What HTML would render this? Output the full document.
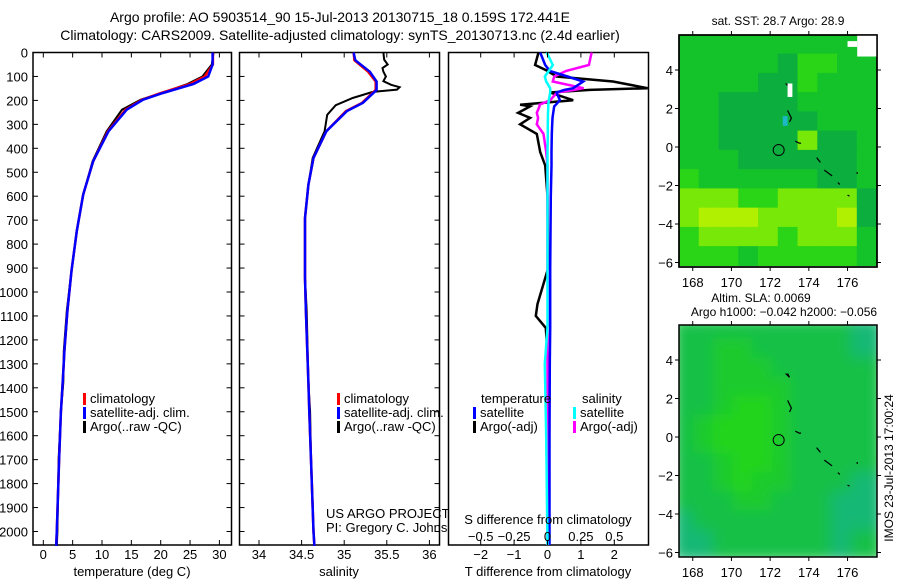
<!DOCTYPE html>
<html><head><meta charset="utf-8">
<style>
html,body{margin:0;padding:0;background:#fff;}
svg{display:block;font-family:"Liberation Sans",sans-serif;}
</style></head>
<body>
<svg id="fig" width="900" height="580" viewBox="0 0 900 580"></svg>
<script>
// ---------- data ----------
const tDepth   = [0,50,100,131,169,197,239,329,454,593,745,912,1079,1246,1378,1500,1700,2000,2060];
const tClim    = [28.9,28.9,27.5,25.0,20.0,16.8,14.0,11.0,8.5,6.8,5.7,4.8,4.1,3.6,3.3,3.0,2.7,2.3,2.2];
const tSat     = [28.85,28.85,28.1,25.6,20.4,17.0,14.2,11.1,8.5,6.8,5.7,4.8,4.1,3.6,3.3,3.0,2.7,2.3,2.2];
const tArgo    = [29.0,28.7,27.1,24.6,20.2,16.6,13.4,10.8,8.4,6.8,5.7,4.8,4.0,3.5,3.4,3.0,2.6,2.4,2.3];
const sDepth   = [0,32,80,121,156,210,245,329,440,552,691,941,1079,1378,1500,1700,2000,2060];
const sClim    = [35.11,35.12,35.28,35.37,35.37,35.21,35.02,34.79,34.64,34.58,34.54,34.54,34.55,34.58,34.59,34.61,34.64,34.65];
const sSat     = [35.11,35.13,35.30,35.38,35.38,35.22,35.03,34.79,34.64,34.58,34.54,34.54,34.55,34.58,34.59,34.61,34.64,34.65];
const sArgoDepth = [0,30,50,65,80,100,120,135,145,155,165,190,220,260,329,440,552,691,941,1079,1378,1500,1700,2000,2060];
const sArgo    = [35.46,35.47,35.51,35.45,35.46,35.49,35.46,35.55,35.65,35.62,35.33,35.10,34.90,34.80,34.77,34.63,34.58,34.54,34.54,34.56,34.58,34.6,34.61,34.64,34.65];
const dDepth   = [0,52,77,100,121,149,156,167,199,218,225,252,273,300,340,416,472,600,900,1050,1100,1150,1300,1600,2060];
const dTArgo   = [-0.27,-0.37,0,0.27,1.96,3.0,1.27,0.07,0.77,-0.82,-0.52,-0.88,-0.52,-0.82,-0.32,-0.22,-0.07,0,0.02,-0.3,-0.35,-0.05,0.02,0.05,0.05];
const dSArgo   = [0.33,0.31,0.14,0.05,0.04,0.27,0.2,0.07,0.02,-0.06,-0.06,-0.08,-0.07,-0.08,-0.03,-0.01,0,0,0,0.01,0.01,0,0,0,0];
const dTSat    = [-0.22,-0.07,0.07,0.6,1.07,0.77,0.5,0.27,0.37,0.25,0.2,0.17,0.15,0.14,0.13,0.12,0.12,0.1,0.08,0.08,0.08,0.08,0.07,0.06,0.06];
const dSSat    = [-0.006,0.04,0.01,-0.02,-0.01,0.02,0.02,0.02,0.01,0.006,0.006,0.004,0.003,0.002,0.002,0,0,0,0,0,0,0,-0.02,-0.01,0];
const tTicks = [0,5,10,15,20,25,30];
const sTicks = [34,34.5,35,35.5,36];
const sTickLabels = ["34","34.5","35","35.5","36"];
const dTTicks = [-2,-1,0,1,2];
const dSTicks = [-0.5,-0.25,0,0.25,0.5];
const dSTickLabels = ["\u22120.5","\u22120.25","0","0.25","0.5"];
const depthTicks = [0,100,200,300,400,500,600,700,800,900,1000,1100,1200,1300,1400,1500,1600,1700,1800,1900,2000];
const lonTicks = [168,170,172,174,176];
const latTicks = [4,2,0,-2,-4,-6];
const sstPalette = ["#0cae3e","#14c22a","#2ad416","#78e808","#b0f000"];
const sstGrid = [
[1,1,1,1,1,1,1,1,1,1],
[1,1,1,1,1,0,2,2,1,1],
[1,1,1,1,0,0,2,1,1,1],
[1,1,0,0,0,0,1,1,1,1],
[1,1,0,0,0,0,0,1,1,1],
[1,1,0,0,0,0,3,0,0,1],
[1,1,1,0,0,0,0,0,0,1],
[2,1,1,1,1,1,1,0,0,1],
[3,3,3,2,2,3,3,3,3,0],
[3,4,4,4,3,3,3,3,4,0],
[2,3,3,3,3,2,3,3,3,1],
[2,2,2,1,2,2,2,2,2,1]];
const slaPalette = ["#12b874","#16c046","#1cca2e","#24d41a"];
const slaGrid = [
[1,1,1,1,1,1,1,1,1,0],
[1,1,2,2,1,1,1,1,1,0],
[1,1,2,2,2,1,1,1,1,1],
[1,1,2,2,2,2,1,1,1,1],
[1,1,2,3,3,2,1,1,1,1],
[1,2,3,3,3,2,1,1,1,1],
[1,2,3,3,3,2,1,1,1,1],
[1,1,2,3,3,2,1,1,1,1],
[1,1,2,3,2,2,1,1,1,0],
[1,1,1,2,2,1,1,1,0,0],
[0,1,1,1,1,1,1,1,0,0],
[0,0,1,1,1,1,1,1,0,1]];
const coastLon = [[172.8,173.0,172.9],[172.9,173.1,173.0],[173.3,173.5,173.6],[174.4,174.6],[174.8,175.2],[175.5,175.6],[176.0,176.1],[176.5,176.5]];
const coastLat = [[3.3,3.1,3.3],[1.9,1.5,1.3],[0.3,0.2,0.2],[-0.55,-0.8],[-1.2,-1.5],[-1.85,-1.95],[-2.5,-2.55],[-1.3,-1.4]];
const argoLon = 172.441, argoLat = -0.159;

// ---------- helpers ----------
const NS="http://www.w3.org/2000/svg";
const svg=document.getElementById('fig');
function el(tag,attrs,parent){const e=document.createElementNS(NS,tag);for(const k in attrs)e.setAttribute(k,attrs[k]);(parent||svg).appendChild(e);return e;}
function txt(x,y,s,size,anchor,parent){const t=el('text',{x:x,y:y,'font-size':size,'text-anchor':anchor||'middle',fill:'#000'},parent);t.textContent=s;return t;}

const Y0=52.5, PY=0.2395, BOT=545;
const yD=d=>Y0+d*PY;
const xT=v=>43.3+v*5.87;
const xS=v=>259+(v-34)*85.2;
const xDT=v=>547.5+v*33.4;
const xDS=v=>547.5+v*133.6;

function panel(name,x1,x2){
  const g=el('g',{});
  
  
  el('rect',{x:x1,y:Y0,width:x2-x1,height:BOT-Y0,fill:'#fff',stroke:'#000','stroke-width':1.5},g);
  return g;
}
function line(g,name,xs,ds,xf,col,w){
  const pts=xs.map((v,i)=>xf(v).toFixed(1)+','+yD(ds[i]).toFixed(1)).join(' ');
  const p=el('polyline',{points:pts,fill:'none',stroke:col,'stroke-width':w,'stroke-linejoin':'miter'},g);
  
  
  return p;
}
function depthTicksOn(g,x1,x2,labels){
  depthTicks.forEach(d=>{
    const y=yD(d);
    el('line',{x1:x1,y1:y,x2:x1+5,y2:y,stroke:'#000','stroke-width':1},g);
    el('line',{x1:x2,y1:y,x2:x2-5,y2:y,stroke:'#000','stroke-width':1},g);
    if(labels){const t=txt(28,y+5,String(d),13,'end',g);}
  });
}
function xTicksOn(g,ticks,labels,xf,top,bottom,ly){
  ticks.forEach((v,i)=>{
    const x=xf(v);
    if(top)el('line',{x1:x,y1:Y0,x2:x,y2:Y0+5,stroke:'#000','stroke-width':1},g);
    if(bottom)el('line',{x1:x,y1:BOT,x2:x,y2:BOT-5,stroke:'#000','stroke-width':1},g);
    if(ly){const t=txt(x,ly,labels[i],13,'middle',g);}
  });
}
function legendEntry(g,x,y,col,label){
  const lg=el('g',{},g);
  
  
  el('rect',{x:x,y:y-10,width:3,height:12,fill:col},lg);
  txt(x+7,y,label,13,'start',lg);
}

// ---------- titles ----------
const t1=txt(340,22,"Argo profile: AO 5903514_90 15-Jul-2013 20130715_18 0.159S 172.441E",14);

const t2=txt(340,40,"Climatology: CARS2009. Satellite-adjusted climatology: synTS_20130713.nc (2.4d earlier)",14);


// ---------- panel 1: temperature ----------
const p1=panel('temperature-panel',33,231.5);
depthTicksOn(p1,33,231.5,true);
xTicksOn(p1,tTicks,tTicks.map(String),xT,true,true,559);
line(p1,'argo-temperature-line',tArgo,tDepth,xT,'#000',2);
line(p1,'climatology-temperature-line',tClim,tDepth,xT,'#f00',2.5);
line(p1,'satellite-temperature-line',tSat,tDepth,xT,'#00f',2.5);
legendEntry(p1,83,403,'#f00','climatology');
legendEntry(p1,83,417,'#00f','satellite-adj. clim.');
legendEntry(p1,83,431,'#000','Argo(..raw -QC)');
const xl1=txt(132,576,"temperature (deg C)",13);

// ---------- panel 2: salinity ----------
const p2=panel('salinity-panel',239.5,439.5);
depthTicksOn(p2,239.5,439.5,false);
xTicksOn(p2,sTicks,sTickLabels,xS,true,true,559);
line(p2,'argo-salinity-line',sArgo,sArgoDepth,xS,'#000',2);
line(p2,'climatology-salinity-line',sClim,sDepth,xS,'#f00',2.5);
line(p2,'satellite-salinity-line',sSat,sDepth,xS,'#00f',2.5);
legendEntry(p2,337,403,'#f00','climatology');
legendEntry(p2,337,417,'#00f','satellite-adj. clim.');
legendEntry(p2,337,431,'#000','Argo(..raw -QC)');
const xl2=txt(339,576,"salinity",13);
const pr1=txt(326,518,"US ARGO PROJECT",13,'start');
const pr2=txt(326,532,"PI: Gregory C. Johnson",13,'start');

// ---------- panel 3: differences ----------
const p3=panel('difference-panel',448.5,648.5);
const cp=el('clipPath',{id:'clip3'});el('rect',{x:448.5,y:Y0,width:200,height:BOT-Y0},cp);
const g3=el('g',{'clip-path':'url(#clip3)'},p3);
xTicksOn(p3,dTTicks,dTTicks.map(v=>v<0?"\u2212"+(-v):String(v)),xDT,true,true,559);
xTicksOn(p3,dSTicks,dSTickLabels,xDS,false,false,541);
line(g3,'argo-temperature-difference-line',dTArgo,dDepth,xDT,'#000',2.5);
line(g3,'argo-salinity-difference-line',dSArgo,dDepth,xDS,'#f0f',2.5);
line(g3,'satellite-temperature-difference-line',dTSat,dDepth,xDT,'#00f',2.5);
line(g3,'satellite-salinity-difference-line',dSSat,dDepth,xDS,'#0ff',2.5);
txt(481,403,"temperature",13,'start',p3);
txt(582,403,"salinity",13,'start',p3);
legendEntry(p3,473,417,'#00f','satellite');
legendEntry(p3,473,431,'#000','Argo(-adj)');
legendEntry(p3,573,417,'#0ff','satellite');
legendEntry(p3,573,431,'#f0f','Argo(-adj)');
const sl=txt(548,524,"S difference from climatology",13);
const tl=txt(548,576,"T difference from climatology",13);

// ---------- maps ----------
const MX1=679, MX2=877, LON0=167.29, PXD=19.35;
const mx=lon=>MX1+(lon-LON0)*PXD;
function mapPanel(name,top,grid,pal,blur){
  const y0=top, lat0=147+(top-35); // y of lat 0
  const my=lat=>lat0-lat*19.25;
  const g=el('g',{});
  
  
  const cid='clip'+name;
  const c=el('clipPath',{id:cid});el('rect',{x:MX1,y:y0,width:MX2-MX1,height:232},c);
  const cg=el('g',{'clip-path':'url(#'+cid+')'},g);
  const ig=el('g',blur?{filter:'url(#blurf)'}:{},cg);
  const cw=(177.5-LON0)/10;
  grid.forEach((row,r)=>row.forEach((v,ci)=>{
    const la=5.85-r, lo=LON0+ci*cw;
    const cell=el('rect',{x:mx(lo)-(blur?6:0),y:my(la)-(blur?6:0),width:cw*PXD+(blur?12:0.6),height:19.25+(blur?12:0.6),fill:pal[v]},ig);
    
    
  }));
  coastLon.forEach((lons,i)=>{
    const pts=lons.map((lo,j)=>mx(lo).toFixed(1)+','+my(coastLat[i][j]).toFixed(1)).join(' ');
    const p=el('polyline',{points:pts,fill:'none',stroke:'#000','stroke-width':1.2},cg);
    
    
  });
  const circ=el('circle',{cx:mx(argoLon),cy:my(argoLat),r:5.5,fill:'none',stroke:'#000','stroke-width':1},cg);
  
  
  el('rect',{x:MX1,y:y0,width:MX2-MX1,height:232,fill:'none',stroke:'#000','stroke-width':1.5},g);
  lonTicks.forEach(lo=>{const x=mx(lo);
    el('line',{x1:x,y1:y0,x2:x,y2:y0-4,stroke:'#000'},g);
    el('line',{x1:x,y1:y0+232,x2:x,y2:y0+236,stroke:'#000'},g);
    const t=txt(x,y0+252,String(lo),13,'middle',g);});
  latTicks.forEach(la=>{const y=my(la);
    el('line',{x1:MX1,y1:y,x2:MX1-4,y2:y,stroke:'#000'},g);
    el('line',{x1:MX2,y1:y,x2:MX2+4,y2:y,stroke:'#000'},g);
    const t=txt(673,y+5,la<0?"\u2212"+(-la):String(la),13,'end',g);});
  return {g,my};
}
const defs=el('defs',{});
const f=el('filter',{id:'blurf',x:'-10%',y:'-10%',width:'120%',height:'120%'},defs);
el('feGaussianBlur',{stdDeviation:7},f);

const m1=mapPanel('sst-map',35,sstGrid,sstPalette,false);
el('rect',{x:mx(176.5),y:m1.my(5.8),width:mx(177.5)-mx(176.5),height:m1.my(4.7)-m1.my(5.8),fill:'#fff'},m1.g);
el('rect',{x:mx(176.0),y:m1.my(5.5),width:mx(176.5)-mx(176.0),height:m1.my(5.2)-m1.my(5.5),fill:'#fff'},m1.g);
el('rect',{x:mx(172.9),y:m1.my(3.3),width:mx(173.15)-mx(172.9),height:m1.my(2.6)-m1.my(3.3),fill:'#fff'},m1.g);
el('rect',{x:mx(172.65),y:m1.my(1.6),width:mx(172.9)-mx(172.65),height:m1.my(1.1)-m1.my(1.6),fill:'#1cb8c8'},m1.g);
el('rect',{x:MX1,y:35,width:MX2-MX1,height:232,fill:'none',stroke:'#000','stroke-width':1.5},m1.g);
const mt1=txt(778,25,"sat. SST: 28.7 Argo: 28.9",12);

const m2=mapPanel('sla-map',325,slaGrid,slaPalette,true);
const mt2=txt(761,302,"Altim. SLA: 0.0069",12);
const mt3=txt(784,316,"Argo h1000: \u22120.042 h2000: \u22120.056",12);
const im=txt(0,0,"IMOS 23-Jul-2013 17:00:24",12);
im.setAttribute('transform','translate(893,468) rotate(-90)');


</script>
</body></html>
